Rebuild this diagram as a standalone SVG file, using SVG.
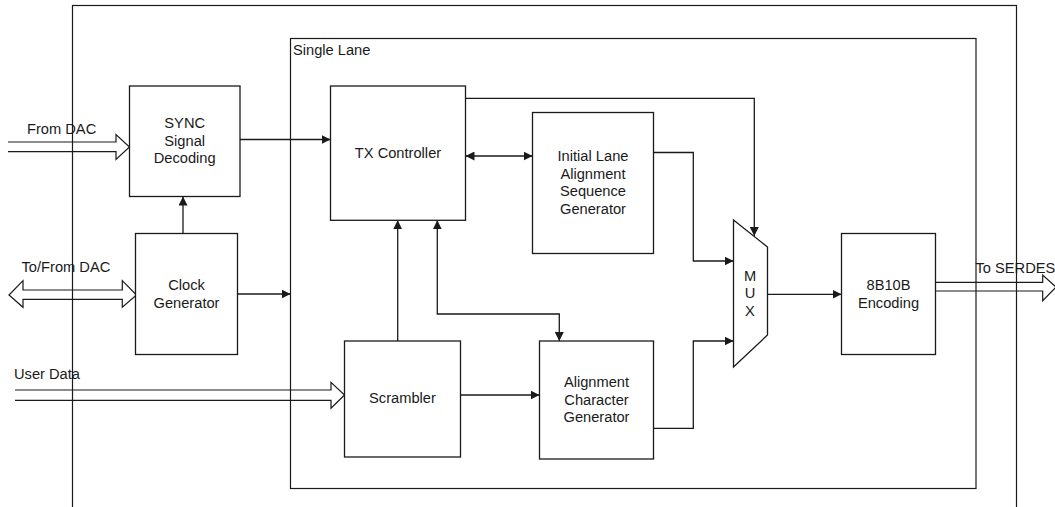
<svg xmlns="http://www.w3.org/2000/svg" width="1055" height="507" viewBox="0 0 1055 507">
<style>
.box{fill:#fff;stroke:#1a1a1a;stroke-width:1.3}
.frame{fill:none;stroke:#1a1a1a;stroke-width:1.2}
.ln{fill:none;stroke:#1a1a1a;stroke-width:1.3}
.hollow{fill:none;stroke:#1a1a1a;stroke-width:1.2}
text{font-family:"Liberation Sans",Arial,sans-serif;font-size:14.67px;fill:#1a1a1a}
.c{text-anchor:middle}
</style>
<defs>
<marker id="ah" viewBox="0 0 10 10" refX="10" refY="5" markerUnits="userSpaceOnUse" markerWidth="9" markerHeight="9" orient="auto-start-reverse">
<path d="M0,0 L10,5 L0,10 z" fill="#1a1a1a"/>
</marker>
</defs>
<rect class="frame" x="72.5" y="5.5" width="944" height="530"/>
<g id="single-lane">
<rect class="frame" x="290.5" y="38.5" width="685.5" height="450"/>
<text x="293" y="55">Single Lane</text>
</g>
<g id="connectors">
<path class="ln" d="M240,139.5 H330.5" marker-end="url(#ah)"/>
<path class="ln" d="M183,233.5 V196.5" marker-end="url(#ah)"/>
<path class="ln" d="M237.5,294 H290.5" marker-end="url(#ah)"/>
<path class="ln" d="M465.5,98.3 H754.3 V236" marker-end="url(#ah)"/>
<path class="ln" d="M465.5,156 H532.5" marker-start="url(#ah)" marker-end="url(#ah)"/>
<path class="ln" d="M653.5,152.5 H693.3 V261 H733.5" marker-end="url(#ah)"/>
<path class="ln" d="M653.5,428.3 H693.3 V341 H733.5" marker-end="url(#ah)"/>
<path class="ln" d="M767.5,294.3 H841.5" marker-end="url(#ah)"/>
<path class="ln" d="M397.7,341 V220.3" marker-end="url(#ah)"/>
<path class="ln" d="M437.3,220.3 V314 H559.3 V341" marker-start="url(#ah)" marker-end="url(#ah)"/>
<path class="ln" d="M460.5,395 H539.5" marker-end="url(#ah)"/>
<path class="hollow" d="M8,142 H116 V134.5 L129.5,147 L116,159.5 V151.7 H8"/>
<path class="hollow" d="M23,290 H122.3 V280.7 L136.5,295 L122.3,307.3 V299.3 H23 V307.3 L9,295 L23,280.7 Z"/>
<path class="hollow" d="M15,390 H331 V382.3 L344.5,395 L331,408.3 V400.3 H15"/>
<path class="hollow" d="M935.7,282.3 H1042.7 V275 L1056,287 L1042.7,300.7 V291 H935.7"/>
<text x="27" y="134">From DAC</text>
<text x="21.5" y="271.5">To/From DAC</text>
<text x="14" y="378.5">User Data</text>
<text x="975.5" y="272.5">To SERDES</text>
</g>
<g id="sync">
<rect class="box" x="129.5" y="86" width="110.5" height="110.5"/>
<text class="c" x="184.7" y="128">SYNC</text>
<text class="c" x="184.7" y="145.7">Signal</text>
<text class="c" x="184.7" y="163.3">Decoding</text>
</g>
<g id="clock">
<rect class="box" x="135.5" y="233.5" width="102" height="121"/>
<text class="c" x="186.5" y="290">Clock</text>
<text class="c" x="186.5" y="307.5">Generator</text>
</g>
<g id="tx">
<rect class="box" x="330.5" y="86" width="135" height="134.3"/>
<text class="c" x="398" y="158.3">TX Controller</text>
</g>
<g id="ilas">
<rect class="box" x="532.5" y="112.5" width="121" height="141"/>
<text class="c" x="593" y="161">Initial Lane</text>
<text class="c" x="593" y="178.7">Alignment</text>
<text class="c" x="593" y="196.4">Sequence</text>
<text class="c" x="593" y="214">Generator</text>
</g>
<g id="scrambler">
<rect class="box" x="344.5" y="341" width="116" height="116"/>
<text class="c" x="402.5" y="403.3">Scrambler</text>
</g>
<g id="acg">
<rect class="box" x="539.5" y="341" width="114" height="118"/>
<text class="c" x="596.5" y="387.3">Alignment</text>
<text class="c" x="596.5" y="404.8">Character</text>
<text class="c" x="596.5" y="422">Generator</text>
</g>
<g id="mux">
<polygon class="box" points="733.5,220 767.5,247 767.5,335 733.5,367"/>
<text class="c" x="750" y="280.7">M</text>
<text class="c" x="750" y="298.3">U</text>
<text class="c" x="750" y="316">X</text>
</g>
<g id="enc">
<rect class="box" x="841.5" y="233.5" width="94" height="121"/>
<text class="c" x="888.5" y="290">8B10B</text>
<text class="c" x="888.5" y="307.5">Encoding</text>
</g>
</svg>
